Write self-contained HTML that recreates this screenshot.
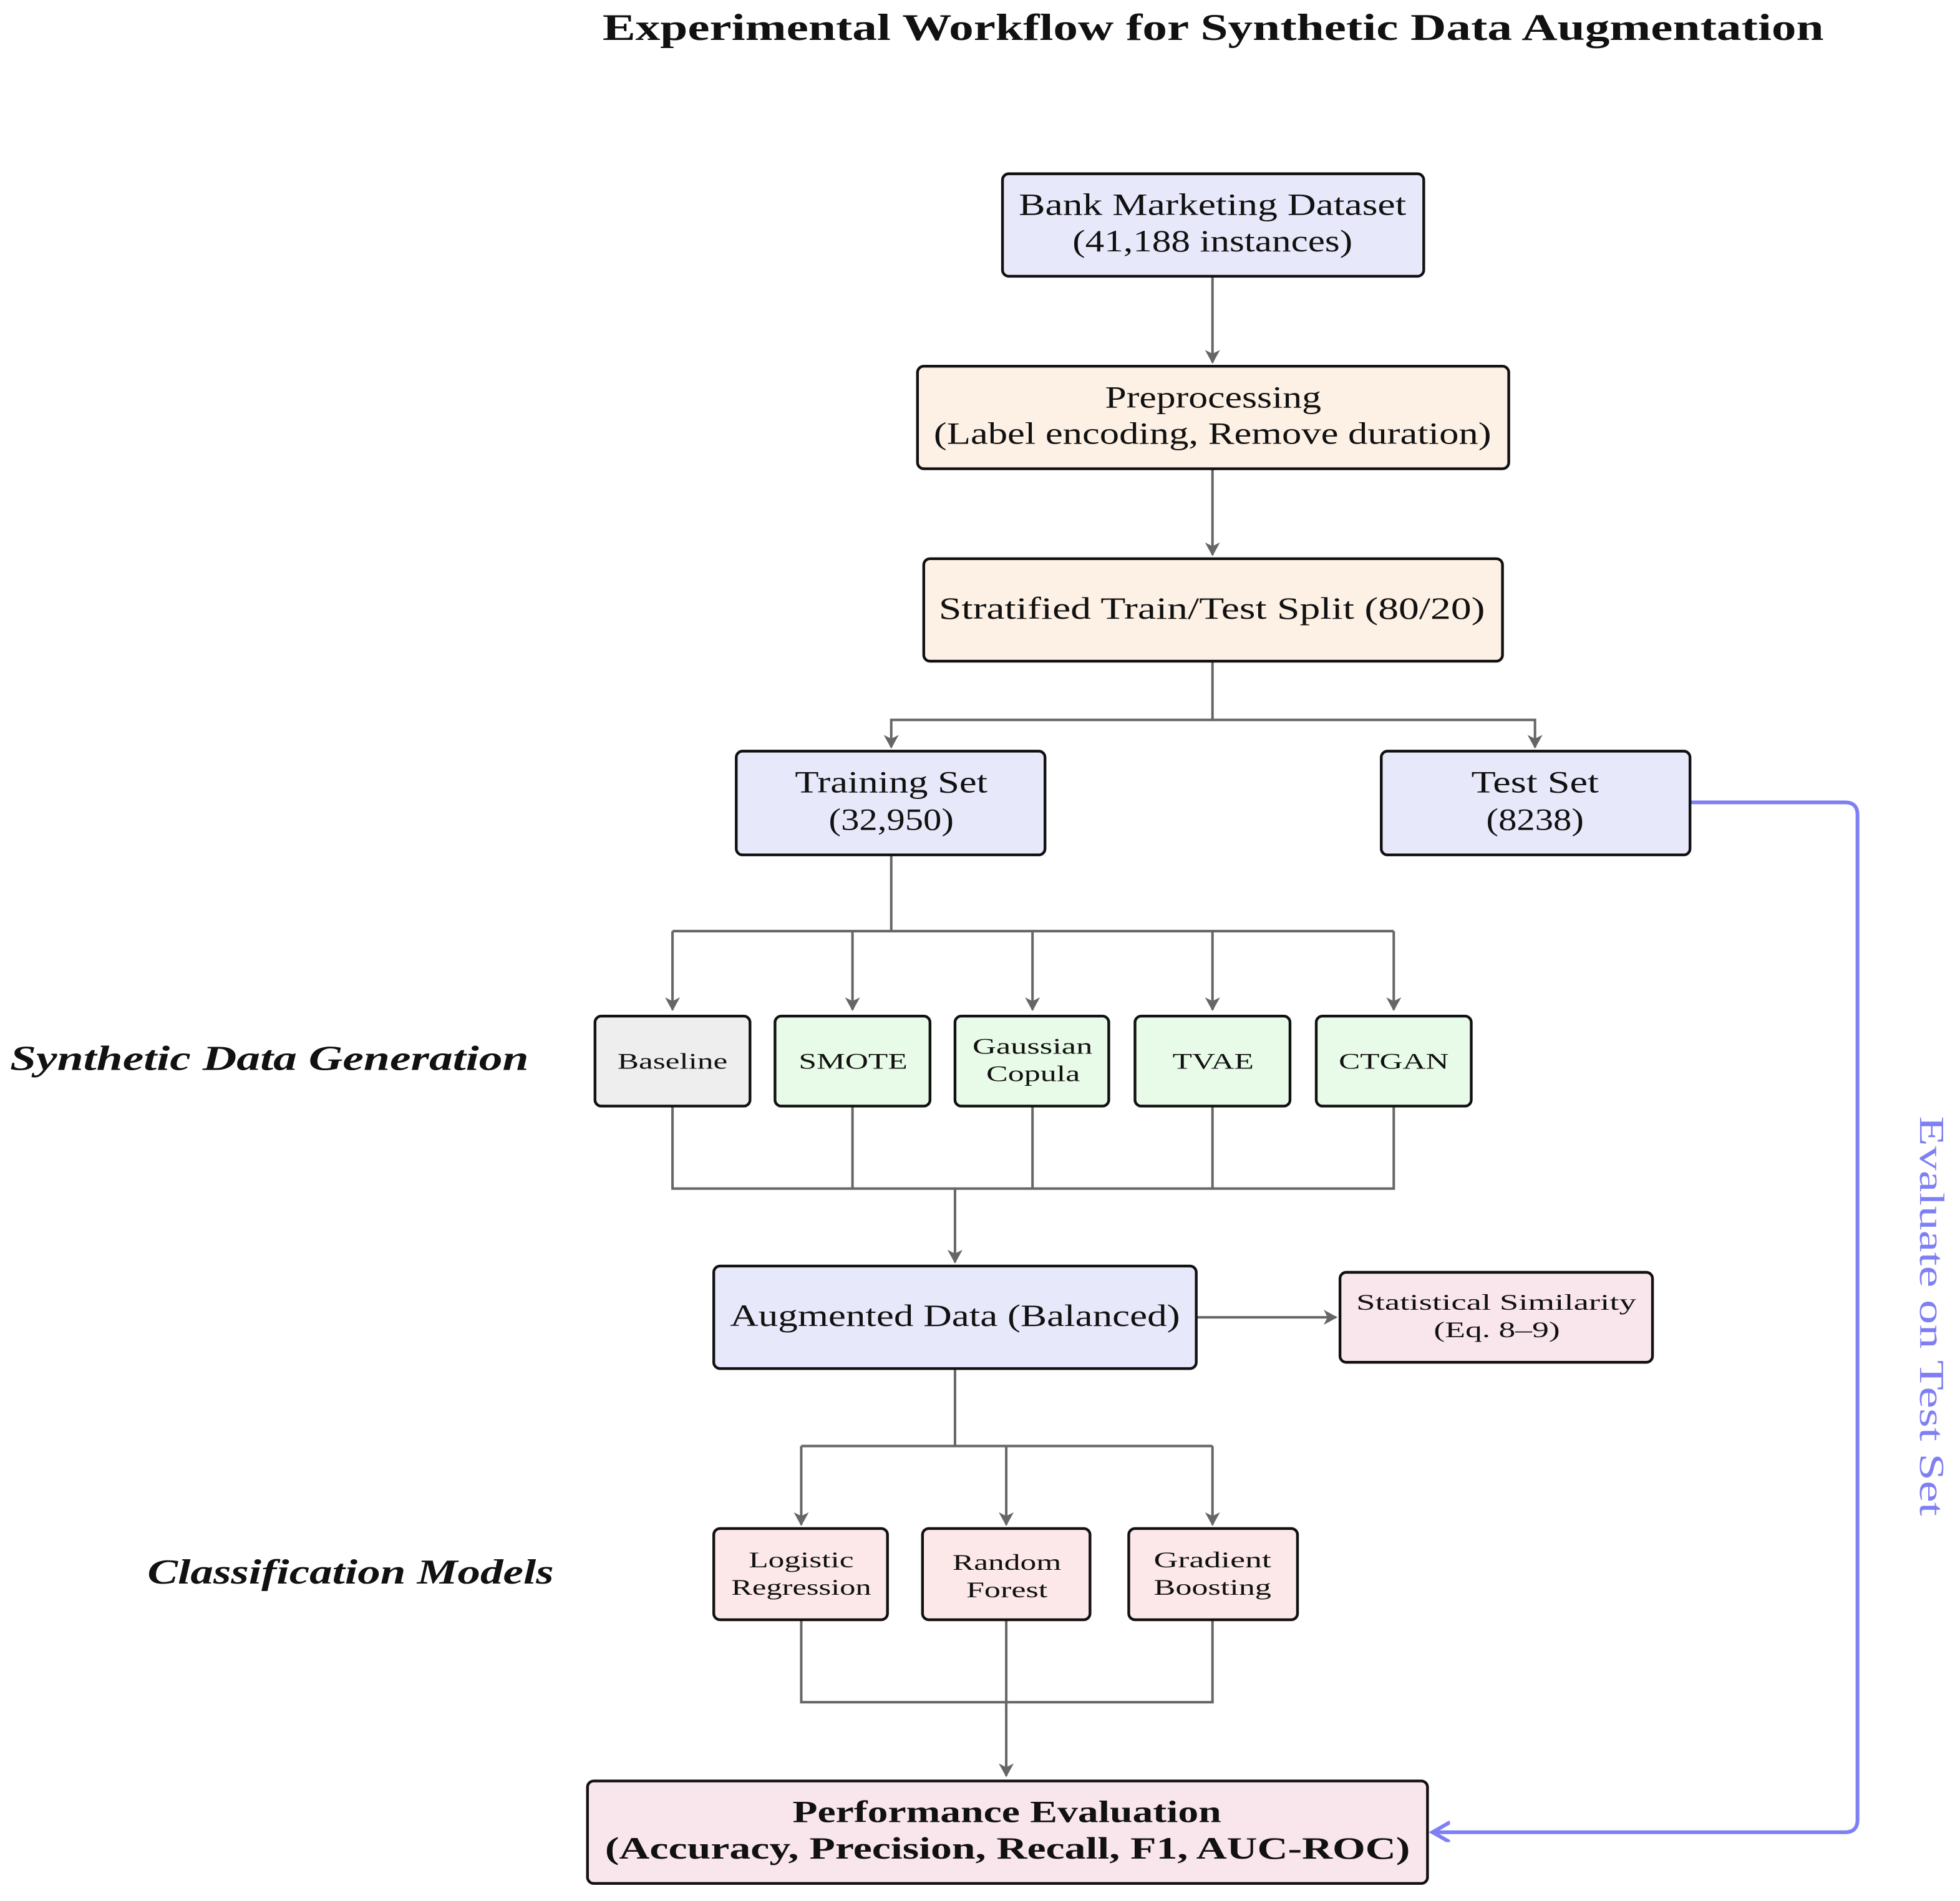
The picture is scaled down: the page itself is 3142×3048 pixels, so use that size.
<!DOCTYPE html>
<html><head><meta charset="utf-8"><style>
html,body{margin:0;padding:0;background:#fff}
svg{display:block}
text{font-family:"Liberation Serif","DejaVu Serif",serif;fill:#111}
</style></head><body>
<svg width="3142" height="3048" viewBox="0 0 1568 1521" xmlns="http://www.w3.org/2000/svg">
<defs>
<marker id="a" markerWidth="12" markerHeight="12" refX="10" refY="6" orient="auto" markerUnits="userSpaceOnUse">
<path d="M0,0 L11,6 L0,12 L3,6 Z" fill="#666"/></marker>
<marker id="b" markerWidth="18" markerHeight="18" refX="14" refY="8" orient="auto" markerUnits="userSpaceOnUse">
<path d="M0,0 L14,8 L0,16" fill="none" stroke="#7f7ff5" stroke-width="3"/></marker>
</defs>
<text x="482" y="32" font-size="30" font-weight="bold" textLength="977" lengthAdjust="spacingAndGlyphs">Experimental Workflow for Synthetic Data Augmentation</text>

<g stroke="#666" stroke-width="2" fill="none">
<line x1="970" y1="221" x2="970" y2="290" marker-end="url(#a)"/>
<line x1="970" y1="375" x2="970" y2="444" marker-end="url(#a)"/>
<polyline points="970,529 970,576 713,576 713,598" marker-end="url(#a)"/>
<polyline points="970,576 1228,576 1228,598" marker-end="url(#a)"/>
<polyline points="713,684 713,745"/>
<line x1="538" y1="745" x2="1115" y2="745"/>
<line x1="538" y1="745" x2="538" y2="808" marker-end="url(#a)"/>
<line x1="682" y1="745" x2="682" y2="808" marker-end="url(#a)"/>
<line x1="826" y1="745" x2="826" y2="808" marker-end="url(#a)"/>
<line x1="970" y1="745" x2="970" y2="808" marker-end="url(#a)"/>
<line x1="1115" y1="745" x2="1115" y2="808" marker-end="url(#a)"/>
<polyline points="538,885 538,951 1115,951 1115,885"/>
<line x1="682" y1="885" x2="682" y2="951"/>
<line x1="826" y1="885" x2="826" y2="951"/>
<line x1="970" y1="885" x2="970" y2="951"/>
<line x1="764" y1="951" x2="764" y2="1010" marker-end="url(#a)"/>
<line x1="957" y1="1054" x2="1069" y2="1054" marker-end="url(#a)"/>
<polyline points="764,1095 764,1157"/>
<line x1="641" y1="1157" x2="970" y2="1157"/>
<line x1="641" y1="1157" x2="641" y2="1220" marker-end="url(#a)"/>
<line x1="805" y1="1157" x2="805" y2="1220" marker-end="url(#a)"/>
<line x1="970" y1="1157" x2="970" y2="1220" marker-end="url(#a)"/>
<polyline points="641,1296 641,1362 970,1362 970,1296"/>
<line x1="805" y1="1296" x2="805" y2="1421" marker-end="url(#a)"/>
</g>
<path d="M1352,642 L1476,642 Q1486,642 1486,652 L1486,1456 Q1486,1466 1476,1466 L1146,1466" fill="none" stroke="#7f7ff5" stroke-width="3" marker-end="url(#b)"/>

<g stroke="#111" stroke-width="2.2">
<rect x="802" y="139" width="337" height="82" rx="5" fill="#e8e8fb"/>
<rect x="734" y="293" width="473" height="82" rx="5" fill="#fdf0e4"/>
<rect x="739" y="447" width="463" height="82" rx="5" fill="#fdf0e4"/>
<rect x="589" y="601" width="247" height="83" rx="5" fill="#e8e8fb"/>
<rect x="1105" y="601" width="247" height="83" rx="5" fill="#e8e8fb"/>
<rect x="476" y="813" width="124" height="72" rx="5" fill="#eeeeee"/>
<rect x="620" y="813" width="124" height="72" rx="5" fill="#e8fbe8"/>
<rect x="764" y="813" width="123" height="72" rx="5" fill="#e8fbe8"/>
<rect x="908" y="813" width="124" height="72" rx="5" fill="#e8fbe8"/>
<rect x="1053" y="813" width="124" height="72" rx="5" fill="#e8fbe8"/>
<rect x="571" y="1013" width="386" height="82" rx="5" fill="#e8e8fb"/>
<rect x="1072" y="1018" width="250" height="72" rx="5" fill="#f9e6ec"/>
<rect x="571" y="1223" width="139" height="73" rx="5" fill="#fce8e8"/>
<rect x="738" y="1223" width="134" height="73" rx="5" fill="#fce8e8"/>
<rect x="903" y="1223" width="135" height="73" rx="5" fill="#fce8e8"/>
<rect x="470" y="1425" width="672" height="82" rx="5" fill="#f9e6ec"/>
</g>

<g font-size="25" lengthAdjust="spacingAndGlyphs">
<text x="815" y="172" textLength="310" lengthAdjust="spacingAndGlyphs">Bank Marketing Dataset</text>
<text x="858" y="201" textLength="224" lengthAdjust="spacingAndGlyphs">(41,188 instances)</text>
<text x="884" y="326" textLength="173" lengthAdjust="spacingAndGlyphs">Preprocessing</text>
<text x="747" y="355" textLength="446" lengthAdjust="spacingAndGlyphs">(Label encoding, Remove duration)</text>
<text x="751" y="495" textLength="437" lengthAdjust="spacingAndGlyphs">Stratified Train/Test Split (80/20)</text>
<text x="636" y="634" textLength="154" lengthAdjust="spacingAndGlyphs">Training Set</text>
<text x="663" y="664" textLength="100" lengthAdjust="spacingAndGlyphs">(32,950)</text>
<text x="1177" y="634" textLength="102" lengthAdjust="spacingAndGlyphs">Test Set</text>
<text x="1189" y="664" textLength="78" lengthAdjust="spacingAndGlyphs">(8238)</text>
<text x="584" y="1061" textLength="360" lengthAdjust="spacingAndGlyphs">Augmented Data (Balanced)</text>
</g>
<g font-size="18">
<text x="494" y="855" textLength="88" lengthAdjust="spacingAndGlyphs">Baseline</text>
<text x="639" y="855" textLength="87" lengthAdjust="spacingAndGlyphs">SMOTE</text>
<text x="778" y="843" textLength="96" lengthAdjust="spacingAndGlyphs">Gaussian</text>
<text x="789" y="865" textLength="75" lengthAdjust="spacingAndGlyphs">Copula</text>
<text x="938" y="855" textLength="65" lengthAdjust="spacingAndGlyphs">TVAE</text>
<text x="1071" y="855" textLength="88" lengthAdjust="spacingAndGlyphs">CTGAN</text>
<text x="1085" y="1048" textLength="224" lengthAdjust="spacingAndGlyphs">Statistical Similarity</text>
<text x="1147" y="1070" textLength="101" lengthAdjust="spacingAndGlyphs">(Eq. 8–9)</text>
<text x="599" y="1254" textLength="84" lengthAdjust="spacingAndGlyphs">Logistic</text>
<text x="585" y="1276" textLength="112" lengthAdjust="spacingAndGlyphs">Regression</text>
<text x="762" y="1256" textLength="87" lengthAdjust="spacingAndGlyphs">Random</text>
<text x="773" y="1278" textLength="65" lengthAdjust="spacingAndGlyphs">Forest</text>
<text x="923" y="1254" textLength="94" lengthAdjust="spacingAndGlyphs">Gradient</text>
<text x="923" y="1276" textLength="94" lengthAdjust="spacingAndGlyphs">Boosting</text>
</g>
<g font-size="25" font-weight="bold">
<text x="634" y="1458" textLength="343" lengthAdjust="spacingAndGlyphs">Performance Evaluation</text>
<text x="484" y="1487" textLength="644" lengthAdjust="spacingAndGlyphs">(Accuracy, Precision, Recall, F1, AUC-ROC)</text>
</g>
<g font-size="28" font-style="italic" font-weight="bold">
<text x="8" y="856" textLength="415" lengthAdjust="spacingAndGlyphs">Synthetic Data Generation</text>
<text x="118" y="1267" textLength="325" lengthAdjust="spacingAndGlyphs">Classification Models</text>
</g>
<text transform="translate(1536,1053) rotate(90)" x="-160" y="0" font-size="28" textLength="320" lengthAdjust="spacingAndGlyphs" style="fill:#7f7ff5">Evaluate on Test Set</text>
</svg>
</body></html>
